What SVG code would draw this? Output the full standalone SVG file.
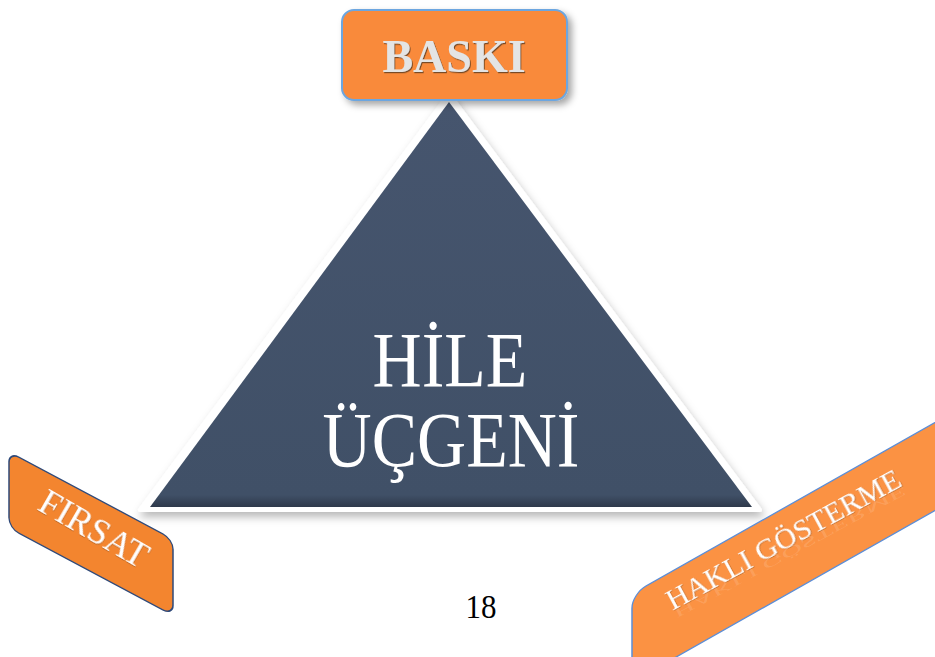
<svg xmlns="http://www.w3.org/2000/svg" width="935" height="657" viewBox="0 0 935 657">
  <defs>
    <style>
      .tab { fill: #F98A3B; }
      .light { fill: #FFFFFF; }
    </style>
    <filter id="boxShadow" x="-20%" y="-20%" width="150%" height="160%">
      <feDropShadow dx="4" dy="4" stdDeviation="3.5" flood-color="#000" flood-opacity="0.35"/>
    </filter>
    <filter id="triShadow" x="-10%" y="-10%" width="120%" height="125%">
      <feDropShadow dx="2" dy="5" stdDeviation="4" flood-color="#000" flood-opacity="0.28"/>
    </filter>
    <filter id="embossText" x="-10%" y="-30%" width="120%" height="160%">
      <feDropShadow dx="1" dy="1.2" stdDeviation="0.7" flood-color="#5a3a20" flood-opacity="0.8"/>
    </filter>
    <filter id="softGlow" x="-10%" y="-30%" width="120%" height="160%">
      <feDropShadow dx="0.6" dy="0.8" stdDeviation="0.6" flood-color="#7a4a20" flood-opacity="0.5"/>
    </filter>
    <linearGradient id="triFill" x1="0" y1="0" x2="0" y2="1">
      <stop offset="0" stop-color="#46556E"/>
      <stop offset="0.97" stop-color="#405067"/>
      <stop offset="1" stop-color="#2E394B"/>
    </linearGradient>
  </defs>

  <g font-family="'Liberation Serif', 'Times New Roman', serif">
    <!-- central triangle with white rim -->
    <g id="node-triangle">
      <polygon points="449,94 140,510 760,510" fill="#FFFFFF" stroke="#FFFFFF" stroke-width="4" stroke-linejoin="round" filter="url(#triShadow)"/>
      <polygon points="449,102 150,507 752,507" fill="url(#triFill)"/>
      <g class="light" font-size="68" text-anchor="middle">
        <text transform="translate(450,386) scale(1,1.15)">HİLE</text>
        <text transform="translate(451,466) scale(1,1.15)">ÜÇGENİ</text>
      </g>
    </g>

    <!-- top tab -->
    <g id="node-baski">
      <rect x="342" y="10" width="225" height="90" rx="12" class="tab" stroke="#6CA6E0" stroke-width="2" filter="url(#boxShadow)"/>
      <text x="454" y="72" font-size="46" font-weight="bold" text-anchor="middle" fill="#E4E4E4" filter="url(#embossText)">BASKI</text>
    </g>

    <!-- lower-left slanted tab -->
    <g id="node-firsat">
      <g transform="translate(9,452) skewY(28)">
        <rect x="0" y="0" width="164" height="76" rx="10" fill="#F3852F" stroke="#2F4A7A" stroke-width="1.5"/>
      </g>
      <text transform="translate(88,539) rotate(30)" class="light" font-size="36" text-anchor="middle" filter="url(#softGlow)">FIRSAT</text>
    </g>

    <!-- lower-right slanted tab -->
    <g id="node-hakli">
      <g transform="translate(632,594) skewY(-29.5)">
        <rect x="0" y="0" width="420" height="88" rx="14" fill="#FB9243" stroke="#5B8ED8" stroke-width="1.5"/>
      </g>
      <g transform="translate(788,548) rotate(-28.5)">
        <text x="0" y="0" font-size="30" text-anchor="middle" fill="#FFFFFF" fill-opacity="0.14" transform="scale(1,-0.45)">HAKLI GÖSTERME</text>
        <text x="0" y="0" class="light" font-size="30" text-anchor="middle" filter="url(#softGlow)">HAKLI GÖSTERME</text>
      </g>
    </g>

    <g id="connectors"/>

    <!-- page number -->
    <text id="page-number" transform="translate(481,618) scale(1,1.08)" font-size="31" text-anchor="middle" fill="#000000">18</text>
  </g>
</svg>
